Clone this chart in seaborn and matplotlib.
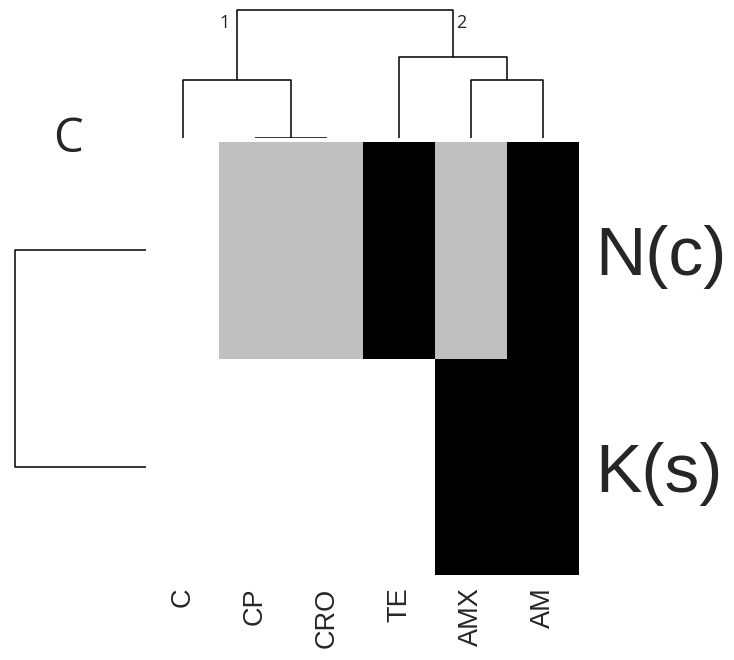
import numpy as np
import pandas as pd
import matplotlib
matplotlib.use('Agg')
import matplotlib.pyplot as plt
from matplotlib.colors import ListedColormap
import seaborn as sns

# resistance scores: 0 = sensitive (white), 1 = intermediate (grey), 2 = resistant (black)
drugs = ['C', 'CP', 'CRO', 'TE', 'AMX', 'AM']
groups = ['N(c)', 'K(s)']
nc_scores = [0, 1, 1, 2, 1, 2]
ks_scores = [0, 0, 0, 0, 2, 2]

# drug tree as a linkage table (left child, right child, height, size)
col_left = [1, 0, 4, 3, 7]
col_right = [2, 6, 5, 8, 9]
col_height = [0.0, 1.0, 1.0, 1.4, 2.2]
col_size = [2, 3, 2, 3, 6]
row_linkage = [[0, 1, 1.0, 2]]

df = pd.DataFrame([nc_scores, ks_scores], index=groups, columns=drugs)
col_linkage = np.column_stack([col_left, col_right, col_height, col_size]).astype(float)

sns.set_style('white')
plt.rcParams['font.family'] = ['Liberation Sans', 'DejaVu Sans']
plt.rcParams['figure.dpi'] = 100

cmap = ListedColormap(['white', '#c0c0c0', 'black'])
g = sns.clustermap(df, row_linkage=np.array(row_linkage, dtype=float), col_linkage=col_linkage,
                   cmap=cmap, vmin=0, vmax=2, cbar_pos=None, figsize=(7.34, 6.6),
                   xticklabels=True, yticklabels=True,
                   tree_kws={'linewidths': 1.1, 'colors': 'black'})

# place the panels by pixel box (x0, y0, x1, y1 from the top left)
W, H = 734, 660
def box(x0, y0, x1, y1):
    return [x0 / W, 1 - y1 / H, (x1 - x0) / W, (y1 - y0) / H]

g.ax_heatmap.set_position(box(147, 142, 579, 575))
g.ax_col_dendrogram.set_position(box(147, 3.6, 579, 138))
g.ax_row_dendrogram.set_position(box(8.4, 142, 146, 575))

hm = g.ax_heatmap
hm.set_xlabel('')
hm.set_ylabel('')
hm.tick_params(axis='x', length=0, pad=9, labelsize=19.5, labelrotation=90)
hm.tick_params(axis='y', length=0, pad=12, labelsize=50, labelrotation=0)

# mark the two main clusters next to the root of the drug tree
dc = g.dendrogram_col.dependent_coord
ic = g.dendrogram_col.independent_coord
root = int(np.argmax([max(d) for d in dc]))
xs, ys = ic[root], dc[root]
g.ax_col_dendrogram.annotate('1', (xs[0], ys[1]), xytext=(-5, -3), textcoords='offset points',
                             ha='right', va='top', fontsize=13, family='Open Sans', color='#222222')
g.ax_col_dendrogram.annotate('2', (xs[3], ys[2]), xytext=(2, -3), textcoords='offset points',
                             ha='left', va='top', fontsize=13, family='Open Sans', color='#222222')

g.figure.text(68 / W, 1 - 152 / H, 'C', fontsize=34, family='Open Sans', ha='center', va='baseline')

g.figure.savefig('out.png', dpi=100)
